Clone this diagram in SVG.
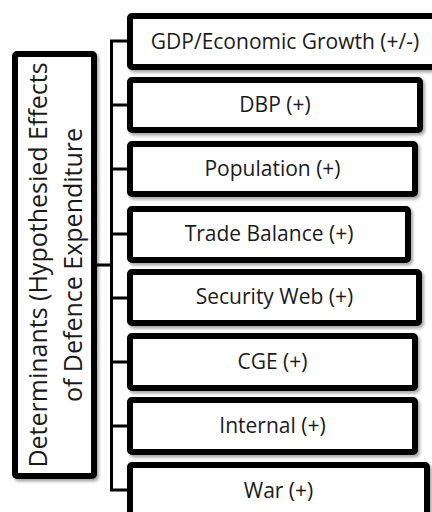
<svg xmlns="http://www.w3.org/2000/svg" width="432" height="512" viewBox="0 0 432 512">
<defs>
<filter id="sh" x="-10%" y="-10%" width="130%" height="140%">
<feDropShadow dx="2" dy="2.5" stdDeviation="1.5" flood-color="#000" flood-opacity="0.35"/>
</filter>
</defs>
<style>
.box{fill:#fff;stroke:#000;stroke-width:6;filter:url(#sh)}
.lbl{font-family:"Open Sans","Noto Sans",sans-serif;font-size:21px;fill:#1a1a1a;text-anchor:middle}
.vt{font-family:"Open Sans","Noto Sans",sans-serif;font-size:25px;fill:#1a1a1a;text-anchor:middle}
.conn{fill:none;stroke:#000;stroke-width:3}
</style>
<rect width="432" height="512" fill="#fff"/>
<g id="connectors">
<line class="conn" x1="111.5" y1="41" x2="111.5" y2="490"/>
<line class="conn" x1="96" y1="265" x2="111.5" y2="265"/>
<line class="conn" x1="110" y1="41" x2="128" y2="41"/>
<line class="conn" x1="110" y1="105" x2="128" y2="105"/>
<line class="conn" x1="110" y1="169" x2="128" y2="169"/>
<line class="conn" x1="110" y1="234" x2="128" y2="234"/>
<line class="conn" x1="110" y1="298" x2="128" y2="298"/>
<line class="conn" x1="110" y1="362" x2="128" y2="362"/>
<line class="conn" x1="110" y1="426" x2="128" y2="426"/>
<line class="conn" x1="110" y1="490" x2="128" y2="490"/>
</g>
<g id="root">
<rect class="box" x="15" y="54" width="79" height="422" rx="2"/>
<text class="vt" transform="translate(47,265) rotate(-90)">Determinants (Hypothesied Effects</text>
<text class="vt" transform="translate(82,265) rotate(-90)">of Defence Expenditure</text>
</g>
<g id="gdp">
<rect class="box" x="130" y="16" width="320" height="51" rx="2"/>
<text class="lbl" x="285" y="48.5">GDP/Economic Growth (+/-)</text>
</g>
<g id="dbp">
<rect class="box" x="130" y="80" width="290" height="50" rx="2"/>
<text class="lbl" x="275" y="111.5">DBP (+)</text>
</g>
<g id="population">
<rect class="box" x="130" y="144" width="285" height="50" rx="2"/>
<text class="lbl" x="272.5" y="175.5">Population (+)</text>
</g>
<g id="trade">
<rect class="box" x="130" y="209" width="278" height="51" rx="2"/>
<text class="lbl" x="269" y="241">Trade Balance (+)</text>
</g>
<g id="security">
<rect class="box" x="130" y="272" width="289" height="51" rx="2"/>
<text class="lbl" x="274.5" y="304">Security Web (+)</text>
</g>
<g id="cge">
<rect class="box" x="130" y="336" width="285" height="52" rx="2"/>
<text class="lbl" x="272.5" y="368.5">CGE (+)</text>
</g>
<g id="internal">
<rect class="box" x="130" y="400" width="285" height="52" rx="2"/>
<text class="lbl" x="272.5" y="432.5">Internal (+)</text>
</g>
<g id="war">
<rect class="box" x="130" y="465" width="297" height="52" rx="2"/>
<text class="lbl" x="278.5" y="497.5">War (+)</text>
</g>
</svg>
